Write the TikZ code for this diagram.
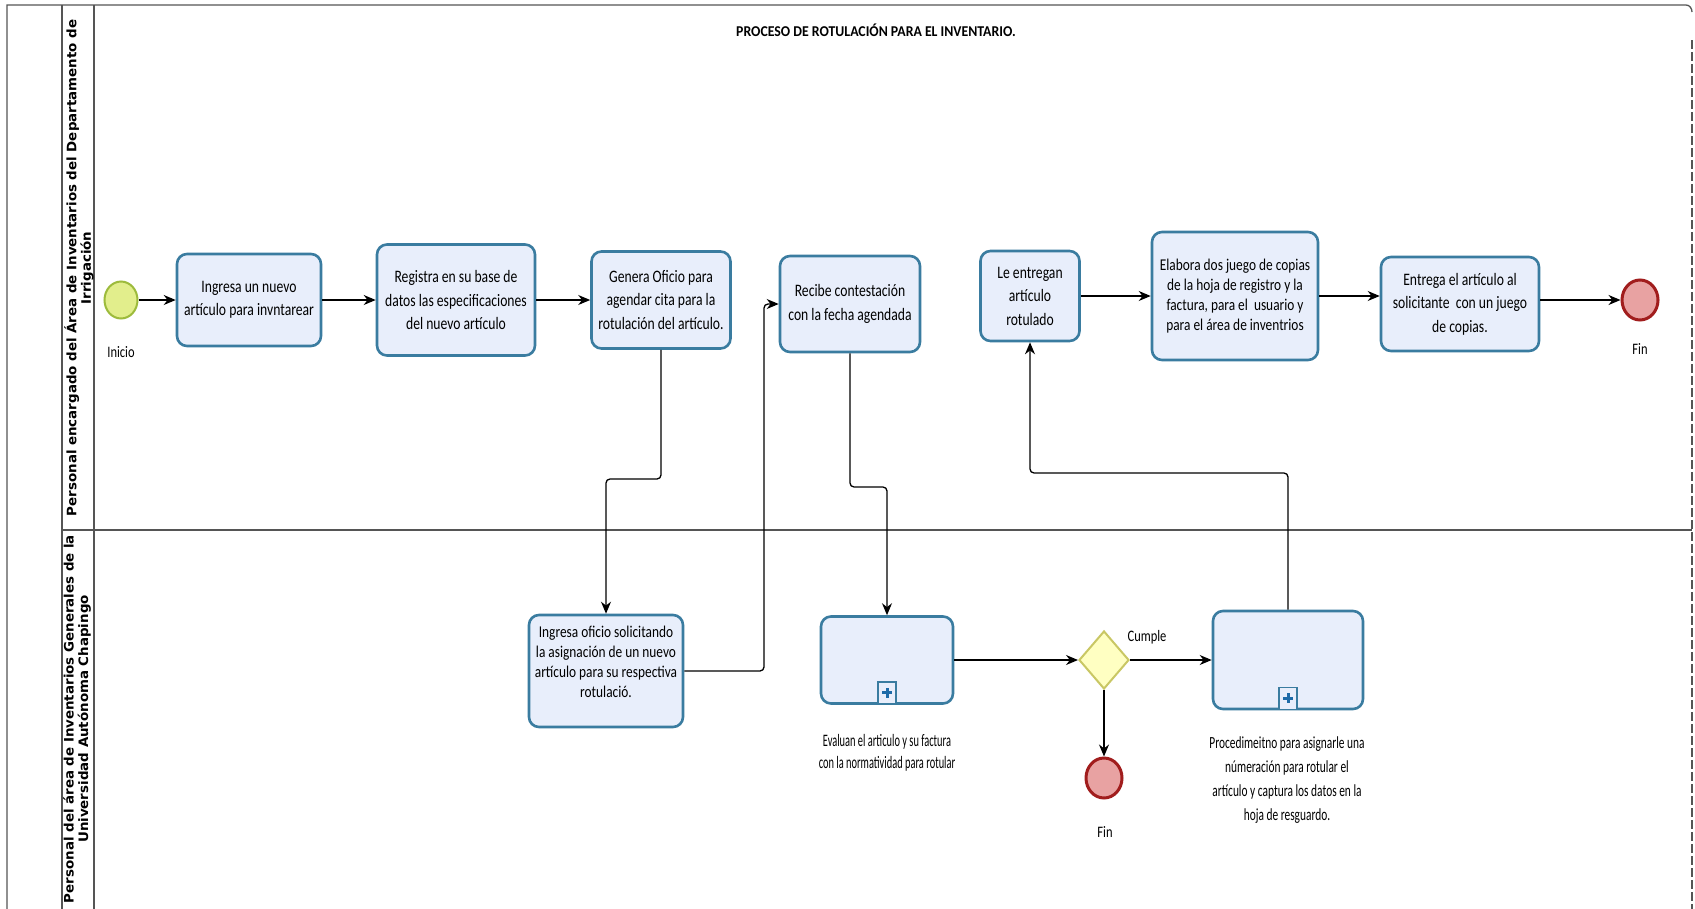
\documentclass[tikz,border=0pt]{standalone}
\usepackage{fontspec}
\setmainfont{Carlito}[FakeStretch=0.78]
\newfontfamily\boxfont{Carlito}[FakeStretch=0.78]
\newfontfamily\smallboxfont{Carlito}[FakeStretch=0.81]
\newfontfamily\labfont{Carlito}[FakeStretch=0.595]
\newfontfamily\labfontb{Carlito}[FakeStretch=0.67]
\newfontfamily\lanefont{DejaVu Sans}[FakeStretch=1.03]
\newfontfamily\titlefont{Carlito}[FakeStretch=0.92]
\usetikzlibrary{shapes.geometric,arrows.meta}
\definecolor{taskfill}{HTML}{E8EEFB}
\definecolor{taskborder}{HTML}{3A7CA0}
\definecolor{startfill}{HTML}{E2EE8C}
\definecolor{startborder}{HTML}{9DBB3C}
\definecolor{endfill}{HTML}{E8A2A2}
\definecolor{endborder}{HTML}{A11D1D}
\definecolor{gwfill}{HTML}{FFFFC2}
\definecolor{gwborder}{HTML}{C9C764}
\definecolor{pluscol}{HTML}{1E6BA8}
\definecolor{poolline}{HTML}{555555}
\tikzset{
  task/.style={draw=taskborder, fill=taskfill, line width=2.6pt, rounded corners=10pt,
    align=center, inner sep=0pt, font=\boxfont\fontsize{17.5}{23.5}\selectfont},
  subproc/.style={task},
  marker/.style={draw=taskborder, fill=taskfill, line width=1.8pt, inner sep=0pt,
    minimum width=18pt, minimum height=22pt, anchor=south},
  startev/.style={ellipse, draw=startborder, fill=startfill, line width=2pt, inner sep=0pt,
    minimum width=33pt, minimum height=37pt},
  endev/.style={ellipse, draw=endborder, fill=endfill, line width=3pt, inner sep=0pt,
    minimum width=36pt, minimum height=40pt},
  gateway/.style={diamond, draw=gwborder, fill=gwfill, line width=2pt, inner sep=0pt,
    minimum width=50pt, minimum height=58pt},
  lbl/.style={align=center, inner sep=0pt, font=\boxfont\fontsize{16}{20}\selectfont},
  flow/.style={draw=black, line width=1.3pt, rounded corners=4pt,
    -{Stealth[length=12pt,width=10pt]}},
  pool/.style={draw=poolline, line width=1.3pt},
  lanetxt/.style={rotate=90, align=center, inner sep=0pt,
    font=\lanefont\bfseries\fontsize{13}{14.5}\selectfont},
}
\begin{document}
\begin{tikzpicture}[x=1pt,y=-1pt]
\useasboundingbox[fill=white] (0,0) rectangle (1695,908);
% pool
\draw[pool] (7,915) -- (7,5) -- (1686,5) to[out=0,in=90] (1692,12);
\draw[pool, dashed, dash pattern=on 9pt off 3pt] (1692,40) -- (1692,915);
\draw[pool] (62,5) -- (62,915);
\draw[pool] (94,5) -- (94,915);
\draw[pool] (62,530) -- (1692,530);
\node[lanetxt] (lane1) at (79,268) {Personal encargado del Área de Inventarios del Departamento de\\Irrigación};
\node[lanetxt] (lane2) at (77,719) {Personal del área de Inventarios Generales de la\\Universidad Autónoma Chapingo};
\node[inner sep=0pt, font=\titlefont\bfseries\fontsize{15}{18}\selectfont] (title) at (876,30) {PROCESO DE ROTULACIÓN PARA EL INVENTARIO.};
% top lane
\node[startev] (ini) at (121,300) {};
\node[lbl] (inilbl) at (121,352) {Inicio};
\node[task, minimum width=144pt, minimum height=92pt] (b1) at (249,300) {Ingresa un nuevo\\artículo para invntarear};
\node[task, minimum width=158pt, minimum height=111pt] (b2) at (456,300) {Registra en su base de\\datos las especificaciones\\del nuevo artículo};
\node[task, minimum width=139pt, minimum height=97pt] (b3) at (661,300) {Genera Oficio para\\agendar cita para la\\rotulación del artículo.};
\node[task, minimum width=140pt, minimum height=96pt] (b4) at (850,304) {Recibe contestación\\con la fecha agendada};
\node[task, minimum width=99pt, minimum height=90pt] (b5) at (1030,296) {Le entregan\\artículo\\rotulado};
\node[task, minimum width=166pt, minimum height=128pt, font=\smallboxfont\fontsize{16.5}{19.8}\selectfont] (b6) at (1235,296) {Elabora dos juego de copias\\de la hoja de registro y la\\factura, para el\ \ usuario y\\para el área de inventrios};
\node[task, minimum width=158pt, minimum height=94pt] (b7) at (1460,304) {Entrega el artículo al\\solicitante\ \ con un juego\\de copias.};
\node[endev] (fin1) at (1640,300) {};
\node[lbl] (fin1lbl) at (1640,349) {Fin};
% bottom lane
\node[task, minimum width=154pt, minimum height=112pt] (b8) at (606,671) {};
\node[lbl, font=\smallboxfont\fontsize{16.5}{20.2}\selectfont] (b8txt) at (606,662) {Ingresa oficio solicitando\\la asignación de un nuevo\\artículo para su respectiva\\rotulació.};
\node[subproc, minimum width=132pt, minimum height=87pt] (s1) at (887,660) {};
\node[marker] (m1) at (s1.south) {};
\draw[pluscol, line width=3pt] (m1.center) ++(-5,0) -- ++(10,0);
\draw[pluscol, line width=3pt] (m1.center) ++(0,-5) -- ++(0,10);
\node[lbl, font=\labfont\fontsize{17.5}{21.6}\selectfont] (s1lbl) at (887,753) {Evaluan el articulo y su factura\\con la normatividad para rotular};
\node[gateway] (gw) at (1104,660) {};
\node[lbl] (cumple) at (1147,637) {Cumple};
\node[endev] (fin2) at (1104,778) {};
\node[lbl] (fin2lbl) at (1105,832) {Fin};
\node[subproc, minimum width=150pt, minimum height=98pt] (s2) at (1288,660) {};
\node[marker] (m2) at (s2.south) {};
\draw[pluscol, line width=3pt] (m2.center) ++(-5,0) -- ++(10,0);
\draw[pluscol, line width=3pt] (m2.center) ++(0,-5) -- ++(0,10);
\node[lbl, font=\labfontb\fontsize{17}{24}\selectfont] (s2lbl) at (1287,780) {Procedimeitno para asignarle una\\númeración para rotular el\\artículo y captura los datos en la\\hoja de resguardo.};
% connectors
\draw[flow] (ini) -- (b1);
\draw[flow] (b1) -- (b2);
\draw[flow] (b2) -- (b3);
\draw[flow] (b3.south) -- (b3.south |- 0,479) -- (b8.north |- 0,479) -- (b8.north);
\draw[flow] (b8.east) -- (b8.east -| 764,0) -- (764,0 |- b4.west) -- (b4.west);
\draw[flow] (b4.south) -- (b4.south |- 0,487) -- (s1.north |- 0,487) -- (s1.north);
\draw[flow] (s1.east) -- (gw.west);
\draw[flow] (gw.east) -- (s2.west);
\draw[flow] (gw.south) -- (fin2.north);
\draw[flow] (s2.north) -- (s2.north |- 0,473) -- (b5.south |- 0,473) -- (b5.south);
\draw[flow] (b5) -- (b6);
\draw[flow] (b6.east) -- (b6.east -| b7.west);
\draw[flow] (b7.east |- fin1) -- (fin1.west);
\end{tikzpicture}
\end{document}
